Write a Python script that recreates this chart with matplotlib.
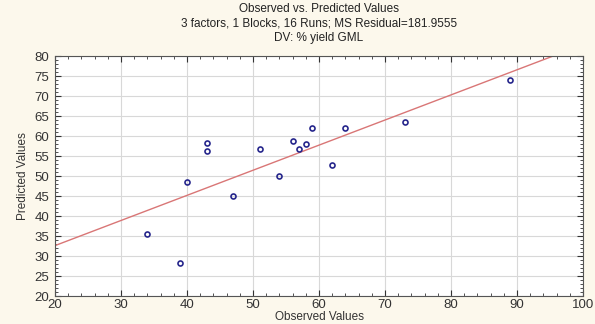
import matplotlib

matplotlib.use("Agg")
import matplotlib.pyplot as plt
import numpy as np
from matplotlib.ticker import MultipleLocator

# observed yield vs. model prediction, 16 runs
observed = [34, 39, 40, 43, 43, 47, 51, 54, 56, 57, 58, 59, 62, 64, 73, 89]
predicted = [35.6, 28.2, 48.6, 58.3, 56.3, 45.0, 56.8, 50.0, 58.7, 56.8, 58.1, 61.9, 52.7, 61.9, 63.6, 74.0]

TITLE = "Observed vs. Predicted Values\n3 factors, 1 Blocks, 16 Runs; MS Residual=181.9555\nDV: % yield GML"
BG = "#FCF8EC"

plt.rcParams["font.family"] = ["Liberation Sans", "DejaVu Sans"]

fig = plt.figure(figsize=(5.95, 3.24), dpi=100, facecolor=BG)
ax = fig.add_axes([0.0924, 0.0864, 0.8876, 0.7406])
ax.set_facecolor("white")

x = np.asarray(observed, dtype=float)
y = np.asarray(predicted, dtype=float)
slope, intercept = np.polyfit(x, y, 1)
xs = np.array([0.0, 120.0])
ax.plot(xs, intercept + slope * xs, color="#D97676", lw=1.0, zorder=2)
ax.plot(x, y, ls="none", marker="o", ms=3.6, mfc="none", mec="#26268C", mew=1.2, zorder=3)

ax.set_xlim(20, 100)
ax.set_ylim(20, 80)
ax.xaxis.set_major_locator(MultipleLocator(10))
ax.xaxis.set_minor_locator(MultipleLocator(2))
ax.yaxis.set_major_locator(MultipleLocator(5))
ax.yaxis.set_minor_locator(MultipleLocator(1))
ax.tick_params(which="both", direction="in", top=True, right=True, colors="#333333",
               labelcolor="#333333", labelsize=9.5)
ax.tick_params(axis="x", pad=2)
ax.tick_params(axis="y", pad=4)
ax.tick_params(which="major", length=4, width=0.8)
ax.tick_params(which="minor", length=2, width=0.6)
ax.grid(which="major", color="#D8D8D8", lw=0.8)
for spine in ax.spines.values():
    spine.set_color("#555555")
    spine.set_linewidth(0.8)

ax.set_xlabel("Observed Values", fontsize=8.5, color="#333333", labelpad=0)
ax.set_ylabel("Predicted Values", fontsize=8.5, color="#333333", labelpad=4)
fig.text(0.536, 0.99, TITLE, ha="center", va="top", fontsize=8.5, color="#222222", linespacing=1.25)

fig.savefig("out.png", dpi=100, facecolor=BG)
